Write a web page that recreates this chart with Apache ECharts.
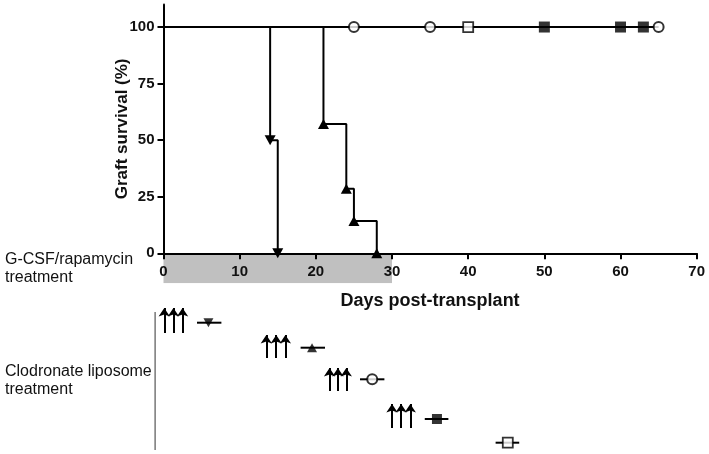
<!DOCTYPE html>
<html><head><meta charset="utf-8">
<script src="https://cdn.jsdelivr.net/npm/echarts@6/dist/echarts.min.js"></script>
<style>html,body{margin:0;padding:0;background:#fff}#c{width:709px;height:454px}</style>
</head><body><div id="c"></div>
<script>
// ---- data ----
const xTicks = [0, 10, 20, 30, 40, 50, 60, 70];
const yTicks = [0, 25, 50, 75, 100];
// Kaplan-Meier curves [day, survival %]
const downTriCurve = [[0, 100], [14, 50], [15, 0]];
const upTriCurve = [[0, 100], [21, 57.14], [24, 28.57], [25, 14.29], [28, 0]];
const survivorLine = [[0, 100], [65, 100]];
const openCircleDays = [25, 35, 65];
const openSquareDays = [40];
const filledSquareDays = [50, 60, 63];
// G-CSF / rapamycin treatment window (days)
const treatmentWindow = [0, 30];
// Clodronate liposome schedule (schematic): injection days per group, row levels
const injectionDays = [[0.1, 1.3, 2.5], [13.5, 14.8, 16.0], [21.8, 22.9, 24.0], [30.0, 31.2, 32.4]];
const arrowLevels = [[33, 8], [58, 35], [91, 68], [128, 104]];
const outcomeSpans = [[4.4, 7.6], [18.0, 21.2], [25.8, 29.0], [34.3, 37.4], [43.6, 46.7]];
const outcomeMarks = [5.9, 19.5, 27.4, 35.9, 45.2];
const outcomeLevels = [22.7, 47.7, 79.3, 119, 142.7];
const outcomeSymbols = ['downTri', 'upTri', 'openCircle', 'filledSquare', 'openSquare'];
const timelineAxisX = -1.1;
const timelineAxisSpan = [12, 150];

// ---- chart ----
const FONT = 'Liberation Sans, Arial, Helvetica, sans-serif';
const BLACK = '#000';
const symStyles = {
  downTri: {symbol: 'triangle', symbolRotate: 180, symbolSize: [11, 10], itemStyle: {color: BLACK}},
  upTri: {symbol: 'triangle', symbolRotate: 0, symbolSize: [11, 10], itemStyle: {color: BLACK}},
  openCircle: {symbol: 'circle', symbolSize: 10, itemStyle: {color: '#fff', borderColor: BLACK, borderWidth: 2}},
  filledSquare: {symbol: 'rect', symbolSize: 11, itemStyle: {color: BLACK}},
  openSquare: {symbol: 'rect', symbolSize: 10, itemStyle: {color: '#fff', borderColor: BLACK, borderWidth: 1.8}}
};

const left = 163.5, right = 12.3;
const pxPerDay = (709 - left - right) / 70;

const series = [];
// band
series.push({
  type: 'line', xAxisIndex: 2, yAxisIndex: 2, z: 0, silent: true,
  data: [[treatmentWindow[0], 1], [treatmentWindow[1], 1]], symbol: 'none',
  lineStyle: {width: 0}, areaStyle: {color: '#c0c0c0', opacity: 1}
});
// survivor line
series.push({type: 'line', xAxisIndex: 0, yAxisIndex: 0, data: survivorLine, symbol: 'none',
  lineStyle: {color: BLACK, width: 2}, z: 3});
function kmSeries(curve, st) {
  return Object.assign({
    type: 'line', xAxisIndex: 0, yAxisIndex: 0, step: 'end', z: 4,
    lineStyle: {color: BLACK, width: 2},
    data: curve.map((p, i) => i === 0 ? {value: p, symbol: 'none'} : {value: p}),
    showAllSymbol: true
  }, st);
}
series.push(kmSeries(downTriCurve, symStyles.downTri));
series.push(kmSeries(upTriCurve, symStyles.upTri));
function markerScatter(days, st) {
  return Object.assign({type: 'scatter', xAxisIndex: 0, yAxisIndex: 0, z: 5,
    data: days.map(d => [d, 100])}, st);
}
series.push(markerScatter(openCircleDays, symStyles.openCircle));
series.push(markerScatter(openSquareDays, symStyles.openSquare));
series.push(markerScatter(filledSquareDays, symStyles.filledSquare));

// lower timeline
series.push({type: 'line', xAxisIndex: 1, yAxisIndex: 1, symbol: 'none',
  data: [[timelineAxisX, timelineAxisSpan[0]], [timelineAxisX, timelineAxisSpan[1]]],
  lineStyle: {color: '#777', width: 1.5}});
const arrowData = [];
injectionDays.forEach((g, gi) => g.forEach(d => arrowData.push({coords: [[d, arrowLevels[gi][0]], [d, arrowLevels[gi][1]]]})));
series.push({type: 'lines', coordinateSystem: 'cartesian2d', xAxisIndex: 1, yAxisIndex: 1,
  symbol: ['none', 'arrow'], symbolSize: [0, 8.5],
  lineStyle: {color: BLACK, width: 2, opacity: 1, curveness: 0}, data: arrowData});
outcomeSpans.forEach((s, i) => {
  series.push({type: 'line', xAxisIndex: 1, yAxisIndex: 1, symbol: 'none',
    data: [[s[0], outcomeLevels[i]], [s[1], outcomeLevels[i]]], lineStyle: {color: BLACK, width: 2}});
  const st = symStyles[outcomeSymbols[i]];
  series.push(Object.assign({type: 'scatter', xAxisIndex: 1, yAxisIndex: 1, z: 5,
    data: [[outcomeMarks[i], outcomeLevels[i]]]}, st, {symbolSize: Array.isArray(st.symbolSize) ? [10, 9] : 10}));
});

const option = {
  animation: false,
  textStyle: {fontFamily: FONT},
  title: [
    {text: 'G-CSF/rapamycin\ntreatment', left: 5, top: 251, padding: 0,
      textStyle: {fontFamily: FONT, fontSize: 16, fontWeight: 'normal', color: '#111', lineHeight: 18}},
    {text: 'Clodronate liposome\ntreatment', left: 5, top: 363, padding: 0,
      textStyle: {fontFamily: FONT, fontSize: 16, fontWeight: 'normal', color: '#111', lineHeight: 18}}
  ],
  grid: [
    {left: left, right: right, top: 4.4, bottom: 454 - 253.3},
    {left: left - 2 * pxPerDay, right: right, top: 300, height: 150},
    {left: left, right: right, top: 253.3, height: 30}
  ],
  xAxis: [
    {type: 'value', gridIndex: 0, min: 0, max: 70, interval: 10, z: 10,
      name: 'Days post-transplant', nameLocation: 'middle', nameGap: 39,
      nameTextStyle: {fontFamily: FONT, fontSize: 18, fontWeight: 'bold', color: '#111'},
      axisLine: {lineStyle: {color: BLACK, width: 2}},
      axisTick: {length: 6, lineStyle: {color: BLACK, width: 2}},
      axisLabel: {margin: 11, fontFamily: FONT, fontSize: 15, fontWeight: 'bold', color: '#111',
        customValues: xTicks},
      splitLine: {show: false}},
    {type: 'value', gridIndex: 1, min: -2, max: 70, show: false},
    {type: 'value', gridIndex: 2, min: 0, max: 70, show: false}
  ],
  yAxis: [
    {type: 'value', gridIndex: 0, min: 0, max: 110,
      name: 'Graft survival (%)', nameLocation: 'middle', nameGap: 33, nameRotate: 90,
      nameMoveOverlap: false,
      nameTextStyle: {fontFamily: FONT, fontSize: 17, fontWeight: 'bold', color: '#111'},
      axisLine: {lineStyle: {color: BLACK, width: 2}},
      axisTick: {length: 6, lineStyle: {color: BLACK, width: 2}, customValues: yTicks},
      axisLabel: {margin: 9, fontFamily: FONT, fontSize: 15, fontWeight: 'bold', color: '#111',
        customValues: yTicks},
      splitLine: {show: false}},
    {type: 'value', gridIndex: 1, min: 0, max: 150, inverse: true, show: false},
    {type: 'value', gridIndex: 2, min: 0, max: 1, show: false}
  ],
  series: series
};
const chart = echarts.init(document.getElementById('c'), null, {renderer: 'canvas'});
chart.setOption(option);
</script></body></html>
